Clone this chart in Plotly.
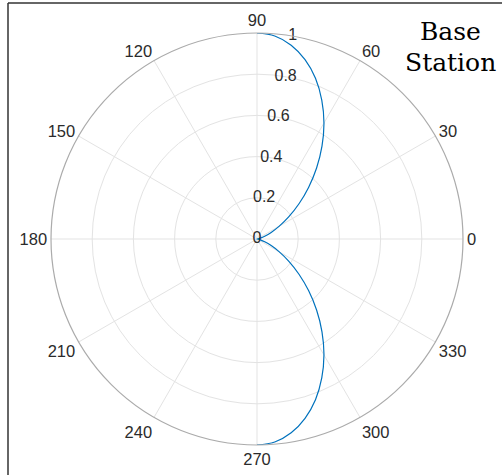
import plotly.graph_objects as go

# Pattern data: angle in degrees, normalized gain
theta_deg = [-90, -85, -80, -75, -70, -65, -60, -55, -50, -45, -40, -35, -30, -25, -20, -15, -10, -5,
             0, 5, 10, 15, 20, 25, 30, 35, 40, 45, 50, 55, 60, 65, 70, 75, 80, 85, 90]
gain = [1.0, 0.989, 0.955, 0.901, 0.830, 0.744, 0.650, 0.550, 0.450, 0.354, 0.266, 0.189, 0.125, 0.076, 0.040, 0.017, 0.005, 0.001,
        0.0, 0.001, 0.005, 0.017, 0.040, 0.076, 0.125, 0.189, 0.266, 0.354, 0.450, 0.550, 0.650, 0.744, 0.830, 0.901, 0.955, 0.989, 1.0]

radial_ticks = [0, 0.2, 0.4, 0.6, 0.8, 1]
radial_labels = ["0", "0.2", "0.4", "0.6", "0.8", "1"]
angular_ticks = [0, 30, 60, 90, 120, 150, 180, 210, 240, 270, 300, 330]
label_angle = 80
annotation_lines = ["Base", "Station"]

W, H = 502, 475
cx, cy, R = 257, 239, 206

fig = go.Figure()
fig.add_trace(go.Scatterpolar(r=gain, theta=theta_deg, mode="lines",
                              line=dict(color="#0072BD", width=1.2, shape="spline", smoothing=1),
                              showlegend=False, hoverinfo="skip"))
fig.add_trace(go.Scatterpolar(r=radial_ticks, theta=[label_angle] * len(radial_ticks), mode="text",
                              text=radial_labels, textposition="middle center",
                              textfont=dict(family="Liberation Sans, Arial", size=16, color="#2b2b2b"),
                              showlegend=False, hoverinfo="skip"))

line_y = [32, 62]
annotations = [dict(text=t, x=450 / W, y=1 - yy / H, xref="paper", yref="paper",
                    xanchor="center", yanchor="middle", showarrow=False,
                    font=dict(family="DejaVu Serif, serif", size=25, color="black"))
               for t, yy in zip(annotation_lines, line_y)]

fig.update_layout(
    width=W, height=H,
    margin=dict(l=0, r=0, t=0, b=0),
    paper_bgcolor="white",
    polar=dict(
        domain=dict(x=[(cx - R) / W, (cx + R) / W], y=[1 - (cy + R) / H, 1 - (cy - R) / H]),
        bgcolor="white",
        radialaxis=dict(range=[0, 1], tickvals=radial_ticks, showticklabels=False, ticks="",
                        showline=False, gridcolor="#e3e3e3", gridwidth=1, angle=label_angle),
        angularaxis=dict(rotation=0, direction="counterclockwise", tickvals=angular_ticks,
                         ticktext=[str(a) for a in angular_ticks], ticks="",
                         showline=True, linecolor="#ababab", linewidth=1.2,
                         gridcolor="#e3e3e3", gridwidth=1,
                         tickfont=dict(family="Liberation Sans, Arial", size=16.5, color="#2b2b2b")),
    ),
    annotations=annotations,
    shapes=[
        dict(type="line", xref="paper", yref="paper", x0=8 / W, x1=8 / W, y0=0, y1=1 - 3 / H,
             line=dict(color="#333333", width=1.5)),
        dict(type="line", xref="paper", yref="paper", x0=8 / W, x1=1, y0=1 - 3 / H, y1=1 - 3 / H,
             line=dict(color="#333333", width=1.5)),
    ],
)

fig.write_html("out.html", config={"displayModeBar": False},
               post_script="document.body.style.margin='0px';")
